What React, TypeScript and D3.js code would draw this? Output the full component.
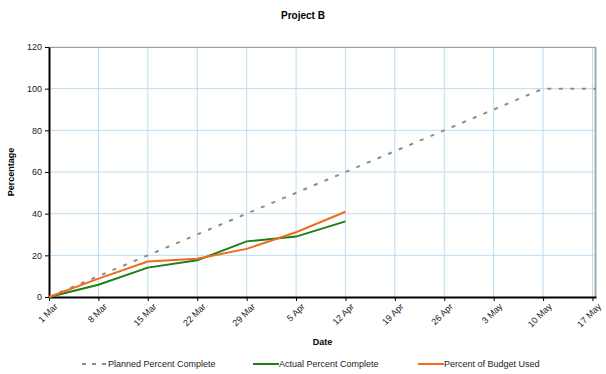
import React, { useEffect, useRef } from 'react';
import * as d3 from 'd3';

const WIDTH = 606;
const HEIGHT = 374;
const MARGIN = { top: 47, right: 10, bottom: 77, left: 49 };

const weekDates = ['2008-03-01', '2008-03-08', '2008-03-15', '2008-03-22', '2008-03-29', '2008-04-05', '2008-04-12', '2008-04-19', '2008-04-26', '2008-05-03', '2008-05-10', '2008-05-17'];
const plannedValues = [0, 10, 20, 30, 40, 50, 60, 70, 80, 90, 100, 100];
const actualValues = [0, 5.9, 14.1, 17.6, 26.7, 29.0, 36.3];
const budgetValues = [0, 8.8, 17.0, 18.4, 23.1, 31.1, 40.9];
const yTicks = [0, 20, 40, 60, 80, 100, 120];

const seriesNames = ['Planned Percent Complete', 'Actual Percent Complete', 'Percent of Budget Used'];
const FONT = 'Liberation Sans, Arial, sans-serif';

const App: React.FC = () => {
  const svgRef = useRef<SVGSVGElement>(null);

  useEffect(() => {
    const svg = d3.select(svgRef.current);
    svg.selectAll('*').remove();

    const chartWidth = WIDTH - MARGIN.left - MARGIN.right;
    const chartHeight = HEIGHT - MARGIN.top - MARGIN.bottom;
    const parse = d3.timeParse('%Y-%m-%d');
    const dates = weekDates.map(d => parse(d)!);

    const xScale = d3.scaleTime()
      .domain([dates[0], d3.timeHour.offset(dates[dates.length - 1], 12)])
      .range([0, chartWidth]);
    const yScale = d3.scaleLinear().domain([0, 120]).range([chartHeight, 0]);

    const g = svg.append('g').attr('transform', `translate(${MARGIN.left},${MARGIN.top})`);

    // Gridlines
    g.append('g').selectAll('line.hg').data(yTicks.slice(1)).enter().append('line')
      .attr('x1', 0).attr('x2', chartWidth)
      .attr('y1', d => yScale(d)).attr('y2', d => yScale(d))
      .attr('stroke', '#bcdcf2').attr('stroke-width', 1);
    g.append('g').selectAll('line.vg').data(dates.slice(1)).enter().append('line')
      .attr('x1', d => xScale(d)).attr('x2', d => xScale(d))
      .attr('y1', 0).attr('y2', chartHeight)
      .attr('stroke', '#bcdcf2').attr('stroke-width', 1);

    // plot border (top / right)
    g.append('line').attr('x1', 0).attr('x2', chartWidth).attr('y1', 0.5).attr('y2', 0.5)
      .attr('stroke', '#a0a0a0').attr('stroke-width', 1);
    g.append('line').attr('x1', chartWidth - 0.5).attr('x2', chartWidth - 0.5).attr('y1', 0).attr('y2', chartHeight)
      .attr('stroke', '#a8a8a8').attr('stroke-width', 2);

    // Axes
    const yAxis = g.append('g')
      .call(d3.axisLeft(yScale).tickValues(yTicks).tickSize(4).tickSizeOuter(0).tickPadding(3));
    yAxis.select('.domain').attr('stroke', '#000').attr('stroke-width', 2);
    yAxis.selectAll('line').attr('stroke', '#000');
    yAxis.selectAll('text').style('font-family', FONT).style('font-size', '9px').attr('fill', '#222');

    const xAxis = g.append('g')
      .attr('transform', `translate(0,${chartHeight})`)
      .call(d3.axisBottom(xScale).tickValues(dates).tickSize(4).tickSizeOuter(0)
        .tickFormat(d => d3.timeFormat('%-d %b')(d as Date)));
    xAxis.select('.domain').attr('stroke', '#000').attr('stroke-width', 2);
    xAxis.selectAll('line').attr('stroke', '#000');
    xAxis.selectAll('text')
      .style('font-family', FONT).style('font-size', '9px').attr('fill', '#222')
      .style('text-anchor', 'end')
      .attr('dx', '-0.1em').attr('dy', '0.7em')
      .attr('transform', 'rotate(-45)');

    // Lines
    const line = d3.line<[Date, number]>()
      .x(d => xScale(d[0]))
      .y(d => yScale(d[1]));

    const plannedPts: [Date, number][] = plannedValues.map((v, i) => [dates[i], v]);
    plannedPts[plannedPts.length - 1][0] = d3.timeHour.offset(dates[dates.length - 1], 12);
    g.append('path').datum(plannedPts)
      .attr('fill', 'none').attr('stroke', '#8c8c8c').attr('stroke-width', 2)
      .attr('stroke-dasharray', '4,7.5').attr('d', line);

    g.append('path').datum(actualValues.map((v, i) => [dates[i], v] as [Date, number]))
      .attr('fill', 'none').attr('stroke', '#1a7f1a').attr('stroke-width', 2).attr('d', line);

    g.append('path').datum(budgetValues.map((v, i) => [dates[i], v] as [Date, number]))
      .attr('fill', 'none').attr('stroke', '#f26a1b').attr('stroke-width', 2).attr('d', line);

    // Titles
    svg.append('text').attr('x', WIDTH / 2).attr('y', 19).attr('text-anchor', 'middle')
      .style('font-family', FONT).style('font-size', '10px').style('font-weight', 'bold').text('Project B');
    svg.append('text').attr('x', MARGIN.left + chartWidth / 2).attr('y', 345).attr('text-anchor', 'middle')
      .style('font-family', FONT).style('font-size', '9px').style('font-weight', 'bold').text('Date');
    svg.append('text').attr('transform', `translate(14,${MARGIN.top + chartHeight / 2}) rotate(-90)`)
      .attr('text-anchor', 'middle')
      .style('font-family', FONT).style('font-size', '9px').style('font-weight', 'bold').text('Percentage');

    // Legend
    const legendItems = [
      { name: seriesNames[0], color: '#8c8c8c', dash: '4,6', x: 82 },
      { name: seriesNames[1], color: '#1a7f1a', dash: null, x: 253 },
      { name: seriesNames[2], color: '#f26a1b', dash: null, x: 418 },
    ];
    const legend = svg.selectAll('.legend').data(legendItems).enter().append('g')
      .attr('class', 'legend')
      .attr('transform', d => `translate(${d.x},364)`);
    legend.append('line').attr('x1', 0).attr('x2', 26).attr('y1', 0).attr('y2', 0)
      .attr('stroke', d => d.color).attr('stroke-width', 2)
      .attr('stroke-dasharray', d => d.dash);
    legend.append('text').attr('x', 26).attr('y', 0).attr('dy', '0.35em')
      .style('font-family', FONT).style('font-size', '9px').attr('fill', '#222')
      .text(d => d.name);
  }, []);

  return (
    <svg ref={svgRef} width={WIDTH} height={HEIGHT}
      style={{ position: 'absolute', left: 0, top: 0, background: '#fff' }} />
  );
};

export default App;
